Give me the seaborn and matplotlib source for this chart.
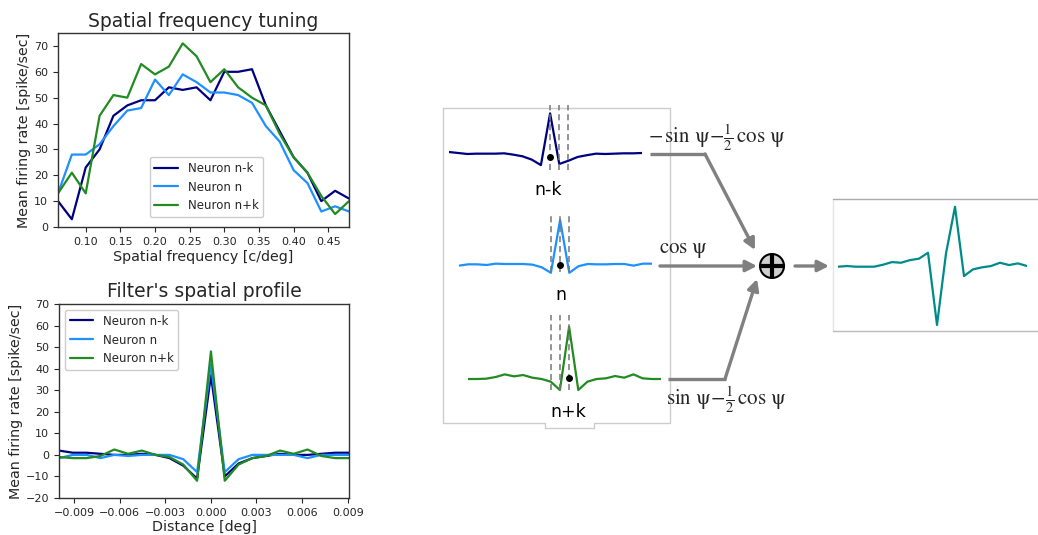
import matplotlib
matplotlib.use("Agg")
import matplotlib.pyplot as plt
from matplotlib.patches import Circle
import pandas as pd
import seaborn as sns

W, H = 1038, 535

# ---- data ----
freq = [0.06, 0.08, 0.10, 0.12, 0.14, 0.16, 0.18, 0.20, 0.22, 0.24, 0.26,
        0.28, 0.30, 0.32, 0.34, 0.36, 0.38, 0.40, 0.42, 0.44, 0.46, 0.48]
tuning_nk = [10, 3, 23, 30, 43, 47, 49, 49, 54, 53, 54, 49, 60, 60, 61, 47, 37, 27, 21, 10, 14, 11]
tuning_n = [13, 28, 28, 32, 39, 45, 46, 57, 51, 59, 56, 52, 52, 51, 48, 39, 33, 22, 17, 6, 8, 6]
tuning_npk = [13, 21, 13, 43, 51, 50, 63, 59, 62, 71, 66, 56, 61, 54, 50, 47, 36, 27, 21, 12, 5, 10]

dist = [-0.01000, -0.00909, -0.00818, -0.00727, -0.00636, -0.00545, -0.00455, -0.00364,
        -0.00273, -0.00182, -0.00091, 0.0, 0.00091, 0.00182, 0.00273, 0.00364,
        0.00455, 0.00545, 0.00636, 0.00727, 0.00818, 0.00909]
profile_nk = [2, 1, 1, 0.5, 0, 0, 0.5, 0, -1.5, -5, -11, 37, -10, -4, -1.5, -0.5, 0.5, 0, 0, 0.5, 1, 1]
profile_n = [-1.5, 0, 0, -1.5, 0, -0.5, 0, 0, 0, -2, -8, 42, -8, -2, 0, 0, 0, 0, -1.5, 0, 0, 0]
profile_npk = [-1, -1.5, -1.5, -0.5, 2.5, 0.5, 2, 0, -1, -4.5, -12, 48, -12, -4.5, -1.5, -0.5, 2, 0.5, 2.5, -0.5, -1.5, -1.5]

labels = ["Neuron n-k", "Neuron n", "Neuron n+k"]
colors = ["navy", "dodgerblue", "forestgreen"]

# diagram sketches (sample index 0..21)
idx = list(range(22))
sketch_nk = [0.9, 0, -0.9, -0.6, -0.6, -0.6, -0.3, -1.5, -3, -6, -11, 36, -10, -7, -3.6, -2, -0.6, -0.9, -0.6, -0.3, -0.3, 0]
sketch_n = [-1.5, -0.3, -0.3, -0.9, 0.3, 0, 0, 0, -0.6, -3, -8, 40, -8, -2, 0, -0.3, -0.3, 0, 0, -1.5, 0.3, 0.3]
sketch_npk = [0, 0, 0.3, 1.8, 4.2, 2.4, 3.6, 1.2, 0, -2.4, -10, 47.5, -10, -2.4, 0, 0.6, 2.7, 1.2, 4.2, 0.6, 0, 0]
sketch_out = [0, 0.6, 0, 0, 0, 1.8, 4.2, 3.6, 6, 7.3, 12.7, -53, 12, 54.5, -8.5, -2.4, -0.6, 0.6, 3.6, 1.5, 3, 0.6]
centre_dot = [-3.6, -0.9, 0.9]

sns.set_theme(style="ticks", rc={
    "axes.edgecolor": "#333333",
    "xtick.major.size": 3.5, "ytick.major.size": 3.5,
    "xtick.major.width": 0.8, "ytick.major.width": 0.8,
    "axes.linewidth": 1.0,
})
plt.rcParams["font.family"] = ["DejaVu Sans"]
plt.rcParams["mathtext.fontset"] = "stix"
plt.rcParams["axes.unicode_minus"] = True


def px_rect(x0, y0, x1, y1):
    return [x0 / W, 1 - y1 / H, (x1 - x0) / W, (y1 - y0) / H]


fig = plt.figure(figsize=(W / 100, H / 100), dpi=100)

# ---- top chart: tuning ----
ax1 = fig.add_axes(px_rect(58, 33, 349, 227))
df_t = pd.DataFrame({"freq": freq * 3,
                     "rate": tuning_nk + tuning_n + tuning_npk,
                     "neuron": [labels[0]] * 22 + [labels[1]] * 22 + [labels[2]] * 22})
sns.lineplot(data=df_t, x="freq", y="rate", hue="neuron", palette=colors,
             linewidth=1.6, ax=ax1)
ax1.set_xlim(0.06, 0.48)
ax1.set_ylim(0, 75)
ax1.set_xticks([0.10, 0.15, 0.20, 0.25, 0.30, 0.35, 0.40, 0.45])
ax1.set_xticklabels(["0.10", "0.15", "0.20", "0.25", "0.30", "0.35", "0.40", "0.45"])
ax1.set_yticks(range(0, 71, 10))
ax1.tick_params(labelsize=8)
ax1.set_title("Spatial frequency tuning", fontsize=13.5, pad=4)
ax1.set_xlabel("Spatial frequency [c/deg]", fontsize=10.3, labelpad=2)
ax1.set_ylabel("Mean firing rate [spike/sec]", fontsize=10.3, labelpad=2)
ax1.legend(loc="lower center", bbox_to_anchor=(0.51, 0.02), fontsize=8.5,
           title=None, framealpha=1, edgecolor="#cccccc", fancybox=True)

# ---- bottom chart: spatial profile ----
ax2 = fig.add_axes(px_rect(59, 304, 349, 498))
df_p = pd.DataFrame({"dist": dist * 3,
                     "rate": profile_nk + profile_n + profile_npk,
                     "neuron": [labels[0]] * 22 + [labels[1]] * 22 + [labels[2]] * 22})
sns.lineplot(data=df_p, x="dist", y="rate", hue="neuron", palette=colors,
             linewidth=1.6, ax=ax2)
ax2.set_xlim(dist[0], dist[-1])
ax2.set_ylim(-20, 70)
ax2.set_xticks([-0.009, -0.006, -0.003, 0.0, 0.003, 0.006, 0.009])
ax2.set_xticklabels(["\u22120.009", "\u22120.006", "\u22120.003", "0.000", "0.003", "0.006", "0.009"])
ax2.set_yticks(range(-20, 71, 10))
ax2.tick_params(labelsize=8)
ax2.set_title("Filter's spatial profile", fontsize=13.5, pad=5)
ax2.set_xlabel("Distance [deg]", fontsize=10.3, labelpad=2)
ax2.set_ylabel("Mean firing rate [spike/sec]", fontsize=10.3, labelpad=2)
ax2.legend(loc="upper left", fontsize=8.5, title=None, framealpha=1,
           edgecolor="#cccccc", fancybox=True)

# ---- overlay in pixel units for the diagram ----
ov = fig.add_axes([0, 0, 1, 1])
ov.set_xlim(0, W)
ov.set_ylim(H, 0)
ov.axis("off")
ov.patch.set_visible(False)

box_x = [443, 670, 670, 594, 594, 545, 545, 443, 443]
box_y = [108, 108, 423, 423, 428, 428, 423, 423, 108]
ov.plot(box_x, box_y, color="#cccccc", lw=1)
ov.plot([833, 833], [199, 331], color="#e4e4e4", lw=1)
ov.plot([833, W], [199, 199], color="#aaaaaa", lw=1)
ov.plot([833, W], [331, 331], color="#bbbbbb", lw=1)

# sketches: (values, colour, x0, x1, baseline, dashed idx, dashed span, label, label pos)
sketches = [
    (sketch_nk, "navy", 449, 642, 153, [11, 12, 13], (105, 170), "n-k", (548, 190)),
    (sketch_n, "dodgerblue", 459, 652, 264, [10, 11, 12], (213, 272), "n", (561, 295)),
    (sketch_npk, "forestgreen", 468, 661, 379, [9, 10, 11], (315, 390), "n+k", (568, 412)),
]
scale = 1.1
for (vals, col, x0, x1, base, dsh, (d0, d1), lab, (lx, ly)), dot in zip(sketches, centre_dot):
    sa = fig.add_axes(px_rect(x0, base - 50 * scale, x1, base + 15 * scale))
    sa.set_xlim(0, 21)
    sa.set_ylim(-15, 50)
    sa.axis("off")
    sa.patch.set_visible(False)
    sns.lineplot(x=idx, y=vals, color=col, linewidth=1.6, ax=sa)
    sa.vlines(dsh, (base - d1) / scale, (base - d0) / scale, colors="#777777",
              linestyles=(0, (4, 2.5)), lw=1.1, clip_on=False)
    sa.plot([11], [dot], "o", color="black", ms=4, clip_on=False)
    ov.text(lx, ly, lab, fontsize=12.5, ha="center", va="center", color="black")

oa = fig.add_axes(px_rect(838, 266.7 - 60 * scale, 1027, 266.7 + 60 * scale))
oa.set_xlim(0, 21)
oa.set_ylim(-60, 60)
oa.axis("off")
oa.patch.set_visible(False)
sns.lineplot(x=idx, y=sketch_out, color="darkcyan", linewidth=1.6, ax=oa)

# arrows
gray = "#808080"
arrow_kw = dict(arrowstyle="-|>,head_length=0.55,head_width=0.28", color=gray, lw=2.4,
                shrinkA=0, shrinkB=0)
ov.plot([650, 706], [154, 154], color=gray, lw=2.4, solid_capstyle="butt")
ov.annotate("", xy=(755, 250), xytext=(705, 154), arrowprops=arrow_kw)
ov.annotate("", xy=(757, 266), xytext=(660, 266), arrowprops=arrow_kw)
ov.plot([668, 726], [379, 379], color=gray, lw=2.4, solid_capstyle="butt")
ov.annotate("", xy=(757, 279), xytext=(725, 379), arrowprops=arrow_kw)
ov.annotate("", xy=(829, 266), xytext=(795, 266), arrowprops=arrow_kw)

ov.add_patch(Circle((772, 266), 12, facecolor="#cfcfcf", edgecolor="black", lw=1.5))
ov.plot([761, 783], [266, 266], color="black", lw=3, solid_capstyle="butt")
ov.plot([772, 772], [255, 277], color="black", lw=3, solid_capstyle="butt")

ov.text(717, 138, r"$-\,\sin\,\mathrm{\psi}\!-\!\frac{1}{2}\,\cos\,\mathrm{\psi}$",
        fontsize=15, ha="center", va="center")
ov.text(684, 250, r"$\cos\,\mathrm{\psi}$", fontsize=15, ha="center", va="center")
ov.text(726, 400, r"$\sin\,\mathrm{\psi}\!-\!\frac{1}{2}\,\cos\,\mathrm{\psi}$",
        fontsize=15, ha="center", va="center")

fig.savefig("out.png", dpi=100)
